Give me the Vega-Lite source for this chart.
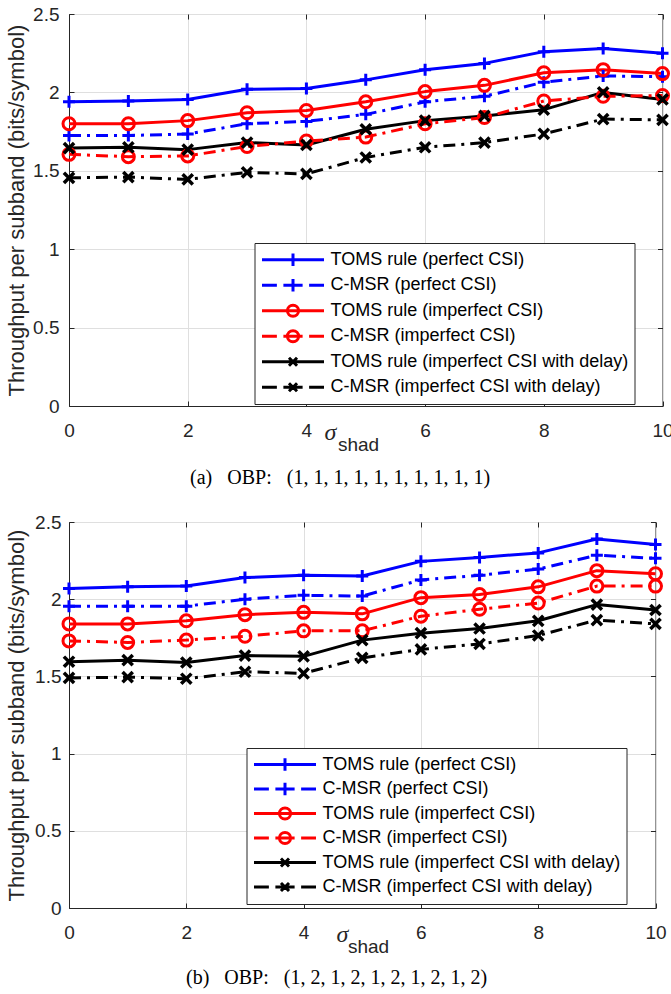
{
  "$schema": "https://vega.github.io/schema/vega-lite/v6.json",
  "background": "white",
  "padding": {"left": 4, "top": 4, "right": 0, "bottom": 0},
  "spacing": 23,
  "columns": 1,
  "config": {
    "view": {"stroke": "#262626", "strokeWidth": 1},
    "axis": {"labelFont": "Liberation Sans", "titleFont": "Liberation Sans", "labelColor": "#262626", "titleColor": "#262626", "domainColor": "#262626", "tickColor": "#262626", "gridColor": "#dfdfdf", "titleFontWeight": "normal"},
    "legend": {"title": null, "symbolSize": 3844, "symbolStrokeWidth": 3, "rowPadding": 3.5, "labelFont": "Liberation Sans", "labelFontSize": 18, "labelColor": "#000000", "labelOffset": 5, "labelLimit": 500, "padding": 6, "strokeColor": "#262626", "fillColor": "#ffffff"}
  },
  "datasets": {
    "a": [
      {"x":0,"s":"TOMS rule (perfect CSI)","y":1.94},{"x":1,"s":"TOMS rule (perfect CSI)","y":1.945},{"x":2,"s":"TOMS rule (perfect CSI)","y":1.955},{"x":3,"s":"TOMS rule (perfect CSI)","y":2.02},{"x":4,"s":"TOMS rule (perfect CSI)","y":2.025},{"x":5,"s":"TOMS rule (perfect CSI)","y":2.08},{"x":6,"s":"TOMS rule (perfect CSI)","y":2.145},{"x":7,"s":"TOMS rule (perfect CSI)","y":2.185},{"x":8,"s":"TOMS rule (perfect CSI)","y":2.26},{"x":9,"s":"TOMS rule (perfect CSI)","y":2.28},{"x":10,"s":"TOMS rule (perfect CSI)","y":2.25},
      {"x":0,"s":"C-MSR (perfect CSI)","y":1.725},{"x":1,"s":"C-MSR (perfect CSI)","y":1.725},{"x":2,"s":"C-MSR (perfect CSI)","y":1.735},{"x":3,"s":"C-MSR (perfect CSI)","y":1.80},{"x":4,"s":"C-MSR (perfect CSI)","y":1.815},{"x":5,"s":"C-MSR (perfect CSI)","y":1.86},{"x":6,"s":"C-MSR (perfect CSI)","y":1.94},{"x":7,"s":"C-MSR (perfect CSI)","y":1.975},{"x":8,"s":"C-MSR (perfect CSI)","y":2.065},{"x":9,"s":"C-MSR (perfect CSI)","y":2.105},{"x":10,"s":"C-MSR (perfect CSI)","y":2.10},
      {"x":0,"s":"TOMS rule (imperfect CSI)","y":1.80},{"x":1,"s":"TOMS rule (imperfect CSI)","y":1.80},{"x":2,"s":"TOMS rule (imperfect CSI)","y":1.82},{"x":3,"s":"TOMS rule (imperfect CSI)","y":1.87},{"x":4,"s":"TOMS rule (imperfect CSI)","y":1.885},{"x":5,"s":"TOMS rule (imperfect CSI)","y":1.94},{"x":6,"s":"TOMS rule (imperfect CSI)","y":2.005},{"x":7,"s":"TOMS rule (imperfect CSI)","y":2.045},{"x":8,"s":"TOMS rule (imperfect CSI)","y":2.125},{"x":9,"s":"TOMS rule (imperfect CSI)","y":2.145},{"x":10,"s":"TOMS rule (imperfect CSI)","y":2.12},
      {"x":0,"s":"C-MSR (imperfect CSI)","y":1.605},{"x":1,"s":"C-MSR (imperfect CSI)","y":1.59},{"x":2,"s":"C-MSR (imperfect CSI)","y":1.595},{"x":3,"s":"C-MSR (imperfect CSI)","y":1.655},{"x":4,"s":"C-MSR (imperfect CSI)","y":1.69},{"x":5,"s":"C-MSR (imperfect CSI)","y":1.715},{"x":6,"s":"C-MSR (imperfect CSI)","y":1.80},{"x":7,"s":"C-MSR (imperfect CSI)","y":1.84},{"x":8,"s":"C-MSR (imperfect CSI)","y":1.945},{"x":9,"s":"C-MSR (imperfect CSI)","y":1.975},{"x":10,"s":"C-MSR (imperfect CSI)","y":1.98},
      {"x":0,"s":"TOMS rule (imperfect CSI with delay)","y":1.645},{"x":1,"s":"TOMS rule (imperfect CSI with delay)","y":1.65},{"x":2,"s":"TOMS rule (imperfect CSI with delay)","y":1.635},{"x":3,"s":"TOMS rule (imperfect CSI with delay)","y":1.68},{"x":4,"s":"TOMS rule (imperfect CSI with delay)","y":1.665},{"x":5,"s":"TOMS rule (imperfect CSI with delay)","y":1.765},{"x":6,"s":"TOMS rule (imperfect CSI with delay)","y":1.82},{"x":7,"s":"TOMS rule (imperfect CSI with delay)","y":1.85},{"x":8,"s":"TOMS rule (imperfect CSI with delay)","y":1.89},{"x":9,"s":"TOMS rule (imperfect CSI with delay)","y":2.0},{"x":10,"s":"TOMS rule (imperfect CSI with delay)","y":1.955},
      {"x":0,"s":"C-MSR (imperfect CSI with delay)","y":1.455},{"x":1,"s":"C-MSR (imperfect CSI with delay)","y":1.46},{"x":2,"s":"C-MSR (imperfect CSI with delay)","y":1.445},{"x":3,"s":"C-MSR (imperfect CSI with delay)","y":1.49},{"x":4,"s":"C-MSR (imperfect CSI with delay)","y":1.48},{"x":5,"s":"C-MSR (imperfect CSI with delay)","y":1.585},{"x":6,"s":"C-MSR (imperfect CSI with delay)","y":1.65},{"x":7,"s":"C-MSR (imperfect CSI with delay)","y":1.68},{"x":8,"s":"C-MSR (imperfect CSI with delay)","y":1.735},{"x":9,"s":"C-MSR (imperfect CSI with delay)","y":1.83},{"x":10,"s":"C-MSR (imperfect CSI with delay)","y":1.825}
    ],
    "b": [
      {"x":0,"s":"TOMS rule (perfect CSI)","y":2.07},{"x":1,"s":"TOMS rule (perfect CSI)","y":2.08},{"x":2,"s":"TOMS rule (perfect CSI)","y":2.085},{"x":3,"s":"TOMS rule (perfect CSI)","y":2.14},{"x":4,"s":"TOMS rule (perfect CSI)","y":2.155},{"x":5,"s":"TOMS rule (perfect CSI)","y":2.15},{"x":6,"s":"TOMS rule (perfect CSI)","y":2.245},{"x":7,"s":"TOMS rule (perfect CSI)","y":2.27},{"x":8,"s":"TOMS rule (perfect CSI)","y":2.30},{"x":9,"s":"TOMS rule (perfect CSI)","y":2.39},{"x":10,"s":"TOMS rule (perfect CSI)","y":2.355},
      {"x":0,"s":"C-MSR (perfect CSI)","y":1.955},{"x":1,"s":"C-MSR (perfect CSI)","y":1.955},{"x":2,"s":"C-MSR (perfect CSI)","y":1.955},{"x":3,"s":"C-MSR (perfect CSI)","y":2.0},{"x":4,"s":"C-MSR (perfect CSI)","y":2.025},{"x":5,"s":"C-MSR (perfect CSI)","y":2.02},{"x":6,"s":"C-MSR (perfect CSI)","y":2.125},{"x":7,"s":"C-MSR (perfect CSI)","y":2.155},{"x":8,"s":"C-MSR (perfect CSI)","y":2.195},{"x":9,"s":"C-MSR (perfect CSI)","y":2.285},{"x":10,"s":"C-MSR (perfect CSI)","y":2.265},
      {"x":0,"s":"TOMS rule (imperfect CSI)","y":1.84},{"x":1,"s":"TOMS rule (imperfect CSI)","y":1.84},{"x":2,"s":"TOMS rule (imperfect CSI)","y":1.86},{"x":3,"s":"TOMS rule (imperfect CSI)","y":1.90},{"x":4,"s":"TOMS rule (imperfect CSI)","y":1.915},{"x":5,"s":"TOMS rule (imperfect CSI)","y":1.905},{"x":6,"s":"TOMS rule (imperfect CSI)","y":2.01},{"x":7,"s":"TOMS rule (imperfect CSI)","y":2.03},{"x":8,"s":"TOMS rule (imperfect CSI)","y":2.08},{"x":9,"s":"TOMS rule (imperfect CSI)","y":2.185},{"x":10,"s":"TOMS rule (imperfect CSI)","y":2.165},
      {"x":0,"s":"C-MSR (imperfect CSI)","y":1.73},{"x":1,"s":"C-MSR (imperfect CSI)","y":1.72},{"x":2,"s":"C-MSR (imperfect CSI)","y":1.735},{"x":3,"s":"C-MSR (imperfect CSI)","y":1.76},{"x":4,"s":"C-MSR (imperfect CSI)","y":1.795},{"x":5,"s":"C-MSR (imperfect CSI)","y":1.795},{"x":6,"s":"C-MSR (imperfect CSI)","y":1.89},{"x":7,"s":"C-MSR (imperfect CSI)","y":1.935},{"x":8,"s":"C-MSR (imperfect CSI)","y":1.975},{"x":9,"s":"C-MSR (imperfect CSI)","y":2.085},{"x":10,"s":"C-MSR (imperfect CSI)","y":2.085},
      {"x":0,"s":"TOMS rule (imperfect CSI with delay)","y":1.595},{"x":1,"s":"TOMS rule (imperfect CSI with delay)","y":1.605},{"x":2,"s":"TOMS rule (imperfect CSI with delay)","y":1.59},{"x":3,"s":"TOMS rule (imperfect CSI with delay)","y":1.635},{"x":4,"s":"TOMS rule (imperfect CSI with delay)","y":1.63},{"x":5,"s":"TOMS rule (imperfect CSI with delay)","y":1.735},{"x":6,"s":"TOMS rule (imperfect CSI with delay)","y":1.78},{"x":7,"s":"TOMS rule (imperfect CSI with delay)","y":1.81},{"x":8,"s":"TOMS rule (imperfect CSI with delay)","y":1.86},{"x":9,"s":"TOMS rule (imperfect CSI with delay)","y":1.965},{"x":10,"s":"TOMS rule (imperfect CSI with delay)","y":1.93},
      {"x":0,"s":"C-MSR (imperfect CSI with delay)","y":1.49},{"x":1,"s":"C-MSR (imperfect CSI with delay)","y":1.495},{"x":2,"s":"C-MSR (imperfect CSI with delay)","y":1.485},{"x":3,"s":"C-MSR (imperfect CSI with delay)","y":1.53},{"x":4,"s":"C-MSR (imperfect CSI with delay)","y":1.52},{"x":5,"s":"C-MSR (imperfect CSI with delay)","y":1.62},{"x":6,"s":"C-MSR (imperfect CSI with delay)","y":1.675},{"x":7,"s":"C-MSR (imperfect CSI with delay)","y":1.71},{"x":8,"s":"C-MSR (imperfect CSI with delay)","y":1.765},{"x":9,"s":"C-MSR (imperfect CSI with delay)","y":1.865},{"x":10,"s":"C-MSR (imperfect CSI with delay)","y":1.84}
    ]
  },
  "resolve": {"scale": {"color": "independent", "shape": "independent"}, "legend": {"color": "independent", "shape": "independent"}},
  "concat": [
    {
      "width": 593.5, "height": 392,
      "data": {"name": "a"},
      "title": {"text": "(a)\u2002 OBP:\u2002 (1, 1, 1, 1, 1, 1, 1, 1, 1, 1)", "orient": "bottom", "anchor": "middle", "frame": "bounds", "font": "Liberation Serif", "fontSize": 20, "fontWeight": "normal", "color": "#000000", "offset": 14},
      "resolve": {"axis": {"x": "independent", "y": "independent"}},
      "layer": [
        {
          "transform": [{"filter": "datum.x > 100"}],
          "mark": {"type": "point", "filled": false, "strokeWidth": 3, "opacity": 1},
          "encoding": {
            "x": {"field": "x", "type": "quantitative", "scale": {"domain": [0, 10], "nice": false}, "axis": null},
            "y": {"field": "y", "type": "quantitative", "scale": {"domain": [0, 2.5], "nice": false}, "axis": null},
            "color": {"field": "s", "type": "nominal",
              "scale": {"domain": ["TOMS rule (perfect CSI)", "C-MSR (perfect CSI)", "TOMS rule (imperfect CSI)", "C-MSR (imperfect CSI)", "TOMS rule (imperfect CSI with delay)", "C-MSR (imperfect CSI with delay)"], "range": ["#0000ff", "#0000ff", "#ff0000", "#ff0000", "#000000", "#000000"]},
              "legend": {"orient": "none", "legendX": 185.5, "legendY": 229, "clipHeight": 21.5}},
            "shape": {"field": "s", "type": "nominal",
              "scale": {"domain": ["TOMS rule (perfect CSI)", "C-MSR (perfect CSI)", "TOMS rule (imperfect CSI)", "C-MSR (imperfect CSI)", "TOMS rule (imperfect CSI with delay)", "C-MSR (imperfect CSI with delay)"],
                "range": ["M-1,0H1M0,-0.2V0.2", "M-1,0H-0.52M-0.31,0H0.31M0.52,0H1M0,-0.2V0.2", "M-1,0H1M0.18,0A0.18,0.18,0,1,1,-0.18,0A0.18,0.18,0,1,1,0.18,0", "M-1,0H-0.52M-0.31,0H0.31M0.52,0H1M0.18,0A0.18,0.18,0,1,1,-0.18,0A0.18,0.18,0,1,1,0.18,0", "M-1,0H1M-0.13,-0.13L0.13,0.13M-0.13,0.13L0.13,-0.13", "M-1,0H-0.52M-0.31,0H0.31M0.52,0H1M-0.13,-0.13L0.13,0.13M-0.13,0.13L0.13,-0.13"]},
              "legend": {"orient": "none", "legendX": 185.5, "legendY": 229, "clipHeight": 21.5}}
          }
        },
        {
          "transform": [{"filter": {"field": "s", "oneOf": ["TOMS rule (perfect CSI)", "TOMS rule (imperfect CSI)", "TOMS rule (imperfect CSI with delay)"]}}],
          "mark": {"type": "line", "strokeWidth": 3, "strokeCap": "butt", "strokeJoin": "round"},
          "encoding": {
            "x": {"field": "x", "type": "quantitative", "scale": {"domain": [0, 10], "nice": false},
              "axis": {"orient": "bottom", "values": [0, 2, 4, 6, 8, 10], "grid": true, "tickSize": -5, "labelPadding": 20, "labelFontSize": 19, "labelFlush": false,
                "title": "σ", "titleFont": "Liberation Serif", "titleFontStyle": "italic", "titleFontSize": 24, "titleX": 261, "titleY": 33, "titleBaseline": "alphabetic", "titleAlign": "center", "titleAnchor": null}},
            "y": {"field": "y", "type": "quantitative", "scale": {"domain": [0, 2.5], "nice": false},
              "axis": {"orient": "left", "values": [0, 0.5, 1, 1.5, 2, 2.5], "format": "~g", "grid": true, "tickSize": -5, "labelPadding": 15, "labelFontSize": 19, "labelFlush": false,
                "title": "Throughput per subband (bits/symbol)", "titleFontSize": 22, "titlePadding": 4.1}},
            "color": {"field": "s", "type": "nominal"}
          }
        },
        {
          "transform": [{"filter": {"field": "s", "oneOf": ["C-MSR (perfect CSI)", "C-MSR (imperfect CSI)", "C-MSR (imperfect CSI with delay)"]}}],
          "mark": {"type": "line", "strokeWidth": 3, "strokeCap": "butt", "strokeJoin": "round", "strokeDash": [12, 6, 3, 6]},
          "encoding": {
            "x": {"field": "x", "type": "quantitative", "scale": {"domain": [0, 10], "nice": false},
              "axis": {"orient": "bottom", "domain": false, "ticks": false, "labels": false, "grid": false,
                "title": "shad", "titleFontSize": 19, "titleX": 289, "titleY": 44, "titleBaseline": "alphabetic", "titleAlign": "center", "titleAnchor": null}},
            "y": {"field": "y", "type": "quantitative", "scale": {"domain": [0, 2.5], "nice": false}, "axis": null},
            "color": {"field": "s", "type": "nominal"}
          }
        },
        {
          "transform": [{"filter": {"field": "s", "oneOf": ["TOMS rule (perfect CSI)", "C-MSR (perfect CSI)"]}}],
          "mark": {"type": "point", "shape": "M-1,0H1M0,-1V1", "filled": false, "strokeWidth": 3, "size": 144, "opacity": 1},
          "encoding": {
            "x": {"field": "x", "type": "quantitative", "scale": {"domain": [0, 10], "nice": false},
              "axis": {"orient": "top", "values": [0, 2, 4, 6, 8, 10], "domain": false, "labels": false, "grid": false, "title": null, "tickSize": -5}},
            "y": {"field": "y", "type": "quantitative", "scale": {"domain": [0, 2.5], "nice": false},
              "axis": {"orient": "right", "values": [0, 0.5, 1, 1.5, 2, 2.5], "domain": false, "labels": false, "grid": false, "title": null, "tickSize": -5}},
            "color": {"field": "s", "type": "nominal"}
          }
        },
        {
          "transform": [{"filter": {"field": "s", "oneOf": ["TOMS rule (imperfect CSI)", "C-MSR (imperfect CSI)"]}}],
          "mark": {"type": "point", "shape": "circle", "filled": false, "strokeWidth": 3, "size": 144, "opacity": 1},
          "encoding": {
            "x": {"field": "x", "type": "quantitative", "scale": {"domain": [0, 10], "nice": false}, "axis": null},
            "y": {"field": "y", "type": "quantitative", "scale": {"domain": [0, 2.5], "nice": false}, "axis": null},
            "color": {"field": "s", "type": "nominal"}
          }
        },
        {
          "transform": [{"filter": {"field": "s", "oneOf": ["TOMS rule (imperfect CSI with delay)", "C-MSR (imperfect CSI with delay)"]}}],
          "mark": {"type": "point", "shape": "M-0.85,-0.85L0.85,0.85M-0.85,0.85L0.85,-0.85", "filled": false, "strokeWidth": 3.5, "size": 144, "opacity": 1},
          "encoding": {
            "x": {"field": "x", "type": "quantitative", "scale": {"domain": [0, 10], "nice": false}, "axis": null},
            "y": {"field": "y", "type": "quantitative", "scale": {"domain": [0, 2.5], "nice": false}, "axis": null},
            "color": {"field": "s", "type": "nominal"}
          }
        }
      ]
    },
    {
      "width": 586.5, "height": 386,
      "data": {"name": "b"},
      "title": {"text": "(b)\u2002 OBP:\u2002 (1, 2, 1, 2, 1, 2, 1, 2, 1, 2)", "orient": "bottom", "anchor": "middle", "frame": "bounds", "font": "Liberation Serif", "fontSize": 20, "fontWeight": "normal", "color": "#000000", "offset": 12},
      "resolve": {"axis": {"x": "independent", "y": "independent"}},
      "layer": [
        {
          "transform": [{"filter": "datum.x > 100"}],
          "mark": {"type": "point", "filled": false, "strokeWidth": 3, "opacity": 1},
          "encoding": {
            "x": {"field": "x", "type": "quantitative", "scale": {"domain": [0, 10], "nice": false}, "axis": null},
            "y": {"field": "y", "type": "quantitative", "scale": {"domain": [0, 2.5], "nice": false}, "axis": null},
            "color": {"field": "s", "type": "nominal",
              "scale": {"domain": ["TOMS rule (perfect CSI)", "C-MSR (perfect CSI)", "TOMS rule (imperfect CSI)", "C-MSR (imperfect CSI)", "TOMS rule (imperfect CSI with delay)", "C-MSR (imperfect CSI with delay)"], "range": ["#0000ff", "#0000ff", "#ff0000", "#ff0000", "#000000", "#000000"]},
              "legend": {"orient": "none", "legendX": 177.5, "legendY": 226, "clipHeight": 21}},
            "shape": {"field": "s", "type": "nominal",
              "scale": {"domain": ["TOMS rule (perfect CSI)", "C-MSR (perfect CSI)", "TOMS rule (imperfect CSI)", "C-MSR (imperfect CSI)", "TOMS rule (imperfect CSI with delay)", "C-MSR (imperfect CSI with delay)"],
                "range": ["M-1,0H1M0,-0.2V0.2", "M-1,0H-0.52M-0.31,0H0.31M0.52,0H1M0,-0.2V0.2", "M-1,0H1M0.18,0A0.18,0.18,0,1,1,-0.18,0A0.18,0.18,0,1,1,0.18,0", "M-1,0H-0.52M-0.31,0H0.31M0.52,0H1M0.18,0A0.18,0.18,0,1,1,-0.18,0A0.18,0.18,0,1,1,0.18,0", "M-1,0H1M-0.13,-0.13L0.13,0.13M-0.13,0.13L0.13,-0.13", "M-1,0H-0.52M-0.31,0H0.31M0.52,0H1M-0.13,-0.13L0.13,0.13M-0.13,0.13L0.13,-0.13"]},
              "legend": {"orient": "none", "legendX": 177.5, "legendY": 226, "clipHeight": 21}}
          }
        },
        {
          "transform": [{"filter": {"field": "s", "oneOf": ["TOMS rule (perfect CSI)", "TOMS rule (imperfect CSI)", "TOMS rule (imperfect CSI with delay)"]}}],
          "mark": {"type": "line", "strokeWidth": 3, "strokeCap": "butt", "strokeJoin": "round"},
          "encoding": {
            "x": {"field": "x", "type": "quantitative", "scale": {"domain": [0, 10], "nice": false},
              "axis": {"orient": "bottom", "values": [0, 2, 4, 6, 8, 10], "grid": true, "tickSize": -5, "labelPadding": 20, "labelFontSize": 19, "labelFlush": false,
                "title": "σ", "titleFont": "Liberation Serif", "titleFontStyle": "italic", "titleFontSize": 24, "titleX": 273, "titleY": 33, "titleBaseline": "alphabetic", "titleAlign": "center", "titleAnchor": null}},
            "y": {"field": "y", "type": "quantitative", "scale": {"domain": [0, 2.5], "nice": false},
              "axis": {"orient": "left", "values": [0, 0.5, 1, 1.5, 2, 2.5], "format": "~g", "grid": true, "tickSize": -5, "labelPadding": 13, "labelFontSize": 19, "labelFlush": false,
                "title": "Throughput per subband (bits/symbol)", "titleFontSize": 22, "titlePadding": 6.1}},
            "color": {"field": "s", "type": "nominal"}
          }
        },
        {
          "transform": [{"filter": {"field": "s", "oneOf": ["C-MSR (perfect CSI)", "C-MSR (imperfect CSI)", "C-MSR (imperfect CSI with delay)"]}}],
          "mark": {"type": "line", "strokeWidth": 3, "strokeCap": "butt", "strokeJoin": "round", "strokeDash": [12, 6, 3, 6]},
          "encoding": {
            "x": {"field": "x", "type": "quantitative", "scale": {"domain": [0, 10], "nice": false},
              "axis": {"orient": "bottom", "domain": false, "ticks": false, "labels": false, "grid": false,
                "title": "shad", "titleFontSize": 19, "titleX": 299, "titleY": 44, "titleBaseline": "alphabetic", "titleAlign": "center", "titleAnchor": null}},
            "y": {"field": "y", "type": "quantitative", "scale": {"domain": [0, 2.5], "nice": false}, "axis": null},
            "color": {"field": "s", "type": "nominal"}
          }
        },
        {
          "transform": [{"filter": {"field": "s", "oneOf": ["TOMS rule (perfect CSI)", "C-MSR (perfect CSI)"]}}],
          "mark": {"type": "point", "shape": "M-1,0H1M0,-1V1", "filled": false, "strokeWidth": 3, "size": 144, "opacity": 1},
          "encoding": {
            "x": {"field": "x", "type": "quantitative", "scale": {"domain": [0, 10], "nice": false},
              "axis": {"orient": "top", "values": [0, 2, 4, 6, 8, 10], "domain": false, "labels": false, "grid": false, "title": null, "tickSize": -5}},
            "y": {"field": "y", "type": "quantitative", "scale": {"domain": [0, 2.5], "nice": false},
              "axis": {"orient": "right", "values": [0, 0.5, 1, 1.5, 2, 2.5], "domain": false, "labels": false, "grid": false, "title": null, "tickSize": -5}},
            "color": {"field": "s", "type": "nominal"}
          }
        },
        {
          "transform": [{"filter": {"field": "s", "oneOf": ["TOMS rule (imperfect CSI)", "C-MSR (imperfect CSI)"]}}],
          "mark": {"type": "point", "shape": "circle", "filled": false, "strokeWidth": 3, "size": 144, "opacity": 1},
          "encoding": {
            "x": {"field": "x", "type": "quantitative", "scale": {"domain": [0, 10], "nice": false}, "axis": null},
            "y": {"field": "y", "type": "quantitative", "scale": {"domain": [0, 2.5], "nice": false}, "axis": null},
            "color": {"field": "s", "type": "nominal"}
          }
        },
        {
          "transform": [{"filter": {"field": "s", "oneOf": ["TOMS rule (imperfect CSI with delay)", "C-MSR (imperfect CSI with delay)"]}}],
          "mark": {"type": "point", "shape": "M-0.85,-0.85L0.85,0.85M-0.85,0.85L0.85,-0.85", "filled": false, "strokeWidth": 3.5, "size": 144, "opacity": 1},
          "encoding": {
            "x": {"field": "x", "type": "quantitative", "scale": {"domain": [0, 10], "nice": false}, "axis": null},
            "y": {"field": "y", "type": "quantitative", "scale": {"domain": [0, 2.5], "nice": false}, "axis": null},
            "color": {"field": "s", "type": "nominal"}
          }
        }
      ]
    }
  ]
}
